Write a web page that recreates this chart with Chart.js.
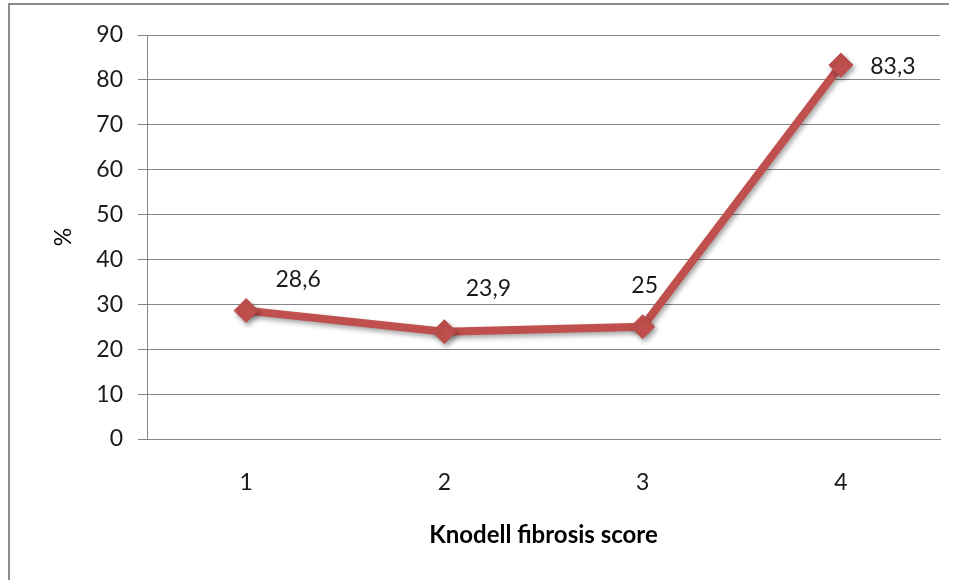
<!DOCTYPE html>
<html>
<head>
<meta charset="utf-8">
<script src="https://cdn.jsdelivr.net/npm/chart.js@4/dist/chart.umd.min.js"></script>
<style>
  html, body { margin: 0; padding: 0; background: #ffffff; }
  #wrap { width: 958px; height: 580px; position: relative; }
</style>
</head>
<body>
<div id="wrap"><canvas id="c" width="958" height="580"></canvas></div>
<script>
const categories = ['1', '2', '3', '4'];
const percentValues = [28.6, 23.9, 25, 83.3];
const yTickValues = [0, 10, 20, 30, 40, 50, 60, 70, 80, 90];
const xAxisTitle = 'Knodell fibrosis score';
const yAxisTitle = '%';

const FONT = 'Lato, "Open Sans", sans-serif';
const LINE_COLOR = '#C0504D';
const GRID_COLOR = '#878787';

// label offsets relative to each point (style only)
const labelOffsets = [[52, -31], [44, -43], [2, -41], [52, 2]];

const framePlugin = {
  id: 'frame',
  beforeDraw(chart) {
    const ctx = chart.ctx;
    ctx.save();
    ctx.fillStyle = '#ffffff';
    ctx.fillRect(0, 0, chart.width, chart.height);
    ctx.strokeStyle = '#8c8c8c';
    ctx.lineWidth = 2;
    ctx.beginPath();
    ctx.moveTo(9, 580);
    ctx.lineTo(9, 4);
    ctx.lineTo(949, 4);
    ctx.stroke();
    ctx.restore();
  }
};

const shadowPlugin = {
  id: 'shadow',
  beforeDatasetsDraw(chart) {
    const ctx = chart.ctx;
    ctx.save();
    ctx.shadowColor = 'rgba(0,0,0,0.35)';
    ctx.shadowBlur = 5;
    ctx.shadowOffsetX = 2;
    ctx.shadowOffsetY = 3;
  },
  afterDatasetsDraw(chart) {
    chart.ctx.restore();
  }
};

const labelPlugin = {
  id: 'valueLabels',
  afterDatasetsDraw(chart) {
    const ctx = chart.ctx;
    const meta = chart.getDatasetMeta(0);
    ctx.save();
    ctx.font = '23px ' + FONT;
    ctx.fillStyle = '#1a1a1a';
    ctx.textAlign = 'center';
    ctx.textBaseline = 'middle';
    meta.data.forEach((pt, i) => {
      const v = chart.data.datasets[0].data[i];
      const txt = String(v).replace('.', ',');
      const off = labelOffsets[i] || [0, -30];
      ctx.fillText(txt, pt.x + off[0], pt.y + off[1]);
    });
    ctx.restore();
  }
};

new Chart(document.getElementById('c'), {
  type: 'line',
  data: {
    labels: categories,
    datasets: [{
      data: percentValues,
      borderColor: LINE_COLOR,
      backgroundColor: LINE_COLOR,
      borderWidth: 8,
      pointStyle: 'rectRot',
      pointRadius: 12,
      pointHoverRadius: 12,
      pointBorderWidth: 1,
      pointBorderColor: LINE_COLOR,
      pointBackgroundColor: LINE_COLOR,
      tension: 0,
      fill: false
    }]
  },
  options: {
    responsive: false,
    animation: false,
    devicePixelRatio: 1,
    events: [],
    layout: { padding: { left: 50, top: 35, right: 18, bottom: 0 } },
    plugins: {
      legend: { display: false },
      tooltip: { enabled: false }
    },
    scales: {
      x: {
        type: 'category',
        offset: true,
        grid: { display: false, drawTicks: false },
        border: { display: true, color: GRID_COLOR, width: 1 },
        ticks: {
          color: '#1a1a1a',
          font: { family: FONT, size: 23 },
          padding: 30,
          maxRotation: 0
        },
        title: {
          display: true,
          text: xAxisTitle,
          color: '#000000',
          font: { family: FONT, size: 24, weight: 'bold' },
          padding: { top: 0, bottom: 30 }
        },
        afterFit(scale) { scale.height = 141; }
      },
      y: {
        min: 0,
        max: 90,
        afterBuildTicks(scale) {
          scale.ticks = yTickValues.map(v => ({ value: v }));
        },
        grid: {
          color: GRID_COLOR,
          lineWidth: 1,
          drawTicks: true,
          tickLength: 9,
          tickColor: GRID_COLOR
        },
        border: { display: true, color: GRID_COLOR, width: 1 },
        ticks: {
          color: '#1a1a1a',
          font: { family: FONT, size: 23 },
          padding: 15
        },
        title: {
          display: true,
          text: yAxisTitle,
          color: '#000000',
          font: { family: FONT, size: 23 },
          padding: 0
        },
        afterFit(scale) { scale.width = 97; }
      }
    }
  },
  plugins: [framePlugin, shadowPlugin, labelPlugin]
});
</script>
</body>
</html>
